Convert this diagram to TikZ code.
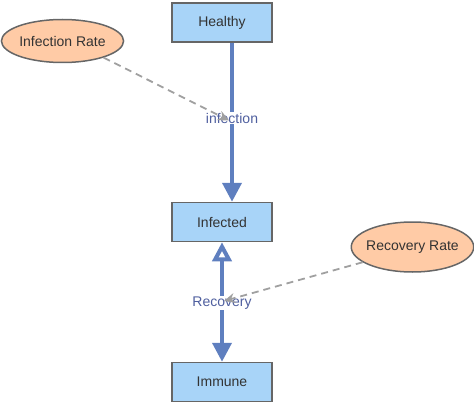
\documentclass[tikz,border=0pt]{standalone}
\usepackage{fontspec}
\setmainfont{Liberation Sans}
\usepackage{xcolor}
\usetikzlibrary{arrows.meta,shapes.geometric}

\definecolor{kastenblau}{HTML}{A8D4F8}
\definecolor{pfirsich}{HTML}{FFCBA6}
\definecolor{rand}{HTML}{666666}
\definecolor{flussblau}{HTML}{5F7FBF}
\definecolor{schrift}{HTML}{4F5F9F}
\definecolor{strich}{HTML}{A0A0A0}

\begin{document}
\begin{tikzpicture}[x=1pt,y=-1pt,
kasten/.style={rectangle, draw=rand, line width=1.5pt, fill=kastenblau, minimum width=100pt, minimum height=39pt, font=\fontsize{14}{17}\selectfont, text=black!80},
rate/.style={ellipse, draw=rand, line width=1.5pt, fill=pfirsich, inner sep=0pt, font=\fontsize{14}{17}\selectfont, text=black!80},
fluss/.style={flussblau, line width=4pt},
etikett/.style={fill=white, inner sep=1pt, text=schrift, font=\fontsize{14}{17}\selectfont},
einfluss/.style={strich, line width=1.8pt, dash pattern=on 7pt off 5pt, -{Stealth[length=11pt,width=10pt]}},
]

%\draw[help lines,yellow,thin] (0,0) grid[step=20] (474,404);
\useasboundingbox (0,0) rectangle (474,404);

\node  [kasten] (H) at (222,22.5){Healthy};
\node  [kasten] (I) at (222,222){Infected};
\node  [kasten] (M) at (222,382){Immune};

\node  [rate, minimum width=121pt, minimum height=43pt] (IR) at (62.5,41){Infection Rate};
\node  [rate, inner xsep=-3pt, minimum width=121pt, minimum height=50pt] (RR) at (412.5,247){Recovery Rate};

\coordinate (h) at (232,0);
\draw [fluss,-{Triangle[length=19pt,width=19pt]}] (H.south -| h) -- (I.north -| h);
\draw [fluss,{Triangle[open,fill=white,length=19pt,width=19pt]}-{Triangle[length=19pt,width=19pt]}] (I) -- (M);

\node  [etikett] (inf) at (232,118){infection};
\node  [etikett] (rec) at (222,303){Recovery};

\coordinate (e1) at (229,120.5);
\coordinate (e2) at (224,301);
\draw [einfluss] (IR.-22) -- (e1);
\draw [einfluss] (RR.-163) -- (e2);
\end{tikzpicture}
\end{document}
